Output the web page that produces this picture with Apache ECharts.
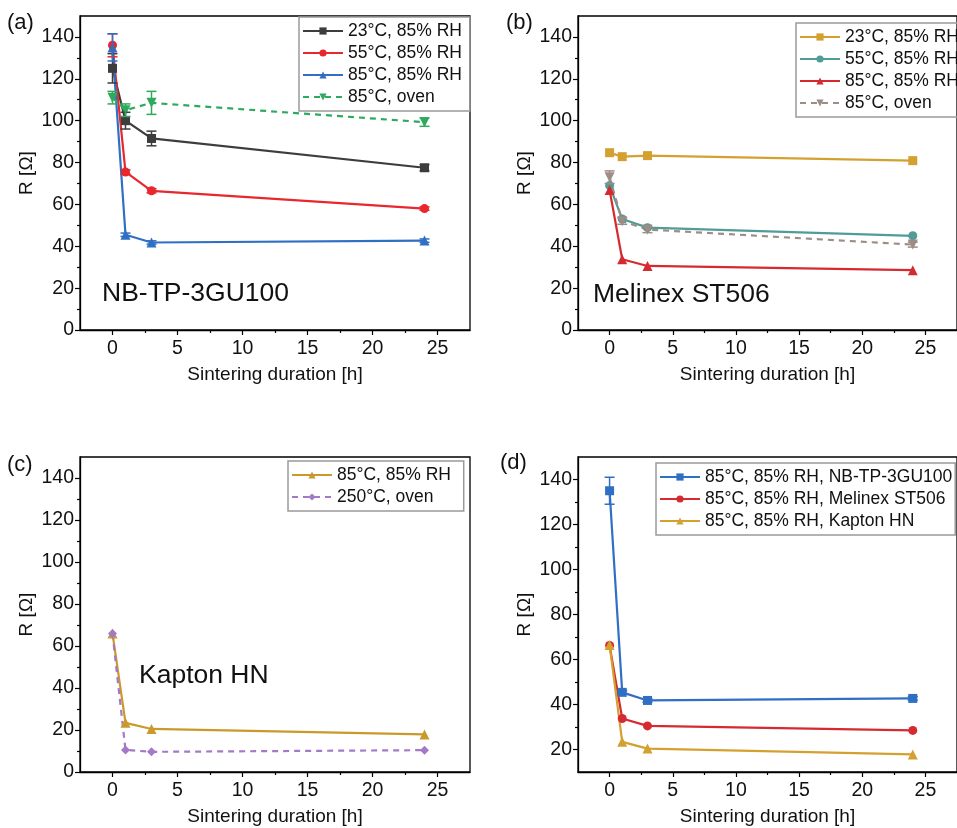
<!DOCTYPE html>
<html>
<head>
<meta charset="utf-8">
<script src="https://cdn.jsdelivr.net/npm/echarts@6/dist/echarts.min.js"></script>
<style>
  html, body { margin: 0; padding: 0; background: #fff; }
  #chart { width: 957px; height: 828px; }
</style>
</head>
<body>
<div id="chart"></div>
<script>
// sintering time points
const hours = [0, 1, 3, 24];

// (a) NB-TP-3GU100
const a23 = [125, 100, 91.5, 77.5];
const a23Err = [7, 4, 3.5, 1.5];
const a55 = [136, 75.5, 66.5, 58];
const a55Err = [5.5, 1, 1, 0.8];
const a85 = [135, 45.5, 41.8, 42.7];
const a85Err = [6.5, 0.8, 0.8, 0.8];
const aOven = [111, 105, 108.5, 99.3];
const aOvenErr = [3, 3, 5.5, 2];

// (b) Melinex ST506
const b23 = [84.7, 82.8, 83.3, 80.9];
const b55 = [69, 53, 48.9, 45];
const b85 = [66.9, 33.8, 30.6, 28.6];
const bOven = [73, 52, 48, 40.8];
const bOvenErr = [3, 1.5, 1.5, 1.2];

// (c) Kapton HN
const c85 = [66, 23.4, 20.5, 17.9];
const c250 = [66, 10.5, 9.6, 10.4];

// (d) 85°C, 85% RH comparison
const dNB = [135, 45.4, 41.8, 42.7];
const dNBErr = [6, 0.8, 0.8, 0.8];
const dMel = [66.2, 33.8, 30.5, 28.5];
const dKap = [66.5, 23.4, 20.4, 17.8];

const xMajor = [0, 5, 10, 15, 20, 25];
const xMinor = [2.5, 7.5, 12.5, 17.5, 22.5];
const yMajor = [0, 20, 40, 60, 80, 100, 120, 140];
const yMinor = [10, 30, 50, 70, 90, 110, 130];
const yMajorD = [20, 40, 60, 80, 100, 120, 140];
const yMinorD = [30, 50, 70, 90, 110, 130];

const FONT = '"Liberation Sans", Arial, sans-serif';

const grids = [
  { left: 80, top: 16, width: 390, height: 314 },
  { left: 578, top: 16, width: 390, height: 314 },
  { left: 80, top: 457, width: 390, height: 315 },
  { left: 578, top: 457, width: 390, height: 315 }
];

const xAxes = [];
const yAxes = [];
grids.forEach((g, i) => {
  const yMin = i === 3 ? 10 : 0;
  const yMaj = i === 3 ? yMajorD : yMajor;
  const yMin2 = i === 3 ? yMinorD : yMinor;
  xAxes.push({
    gridIndex: i, type: 'value', min: -2.5, max: 27.5, position: 'bottom',
    axisLine: { show: true, onZero: false, lineStyle: { color: '#000', width: 1.3 } },
    axisTick: { show: true, inside: false, length: 5, customValues: xMajor, lineStyle: { color: '#000', width: 1.2 } },
    axisLabel: { customValues: xMajor, fontSize: 19.5, color: '#111', margin: 9, fontFamily: FONT },
    splitLine: { show: false },
    name: 'Sintering duration [h]', nameLocation: 'middle', nameGap: 35,
    nameTextStyle: { fontSize: 19, color: '#111', fontFamily: FONT }
  });
  xAxes.push({
    gridIndex: i, type: 'value', min: -2.5, max: 27.5, position: 'bottom',
    axisLine: { show: false, onZero: false },
    axisTick: { show: true, inside: false, length: 3, customValues: xMinor, lineStyle: { color: '#000', width: 1.2 } },
    axisLabel: { show: false }, splitLine: { show: false }
  });
  yAxes.push({
    gridIndex: i, type: 'value', min: yMin, max: 150, position: 'left',
    axisLine: { show: true, onZero: false, lineStyle: { color: '#000', width: 1.3 } },
    axisTick: { show: true, inside: false, length: 5, customValues: yMaj, lineStyle: { color: '#000', width: 1.2 } },
    axisLabel: { customValues: yMaj, fontSize: 19.5, color: '#111', margin: 6, fontFamily: FONT },
    splitLine: { show: false },
    name: 'R [Ω]', nameLocation: 'middle', nameGap: 44, nameRotate: 90,
    nameTextStyle: { fontSize: 19, color: '#111', fontFamily: FONT }
  });
  yAxes.push({
    gridIndex: i, type: 'value', min: yMin, max: 150, position: 'left',
    axisLine: { show: false, onZero: false },
    axisTick: { show: true, inside: false, length: 3, customValues: yMin2, lineStyle: { color: '#000', width: 1.2 } },
    axisLabel: { show: false }, splitLine: { show: false }
  });
});

const pairs = (vals) => hours.map((h, k) => [h, vals[k]]);

function lineSeries(panel, name, vals, color, symbol, dashed) {
  return {
    type: 'line', name: name,
    xAxisIndex: panel * 2, yAxisIndex: panel * 2,
    data: pairs(vals),
    symbol: symbol, symbolSize: symbol === 'triangle' ? 10 : 9,
    symbolRotate: symbol === 'triangle' && dashed ? 180 : 0,
    lineStyle: { color: color, width: 2.2, type: dashed ? [6, 5] : 'solid' },
    itemStyle: { color: color },
    z: 3
  };
}

function errSeries(panel, vals, errs, color) {
  return {
    type: 'custom',
    xAxisIndex: panel * 2, yAxisIndex: panel * 2,
    data: hours.map((h, k) => [h, vals[k] - errs[k], vals[k] + errs[k]]),
    renderItem: function (params, api) {
      const top = api.coord([api.value(0), api.value(2)]);
      const bot = api.coord([api.value(0), api.value(1)]);
      const w = 5;
      const st = { stroke: color, lineWidth: 1.5 };
      return {
        type: 'group',
        children: [
          { type: 'line', shape: { x1: top[0], y1: top[1], x2: bot[0], y2: bot[1] }, style: st },
          { type: 'line', shape: { x1: top[0] - w, y1: top[1], x2: top[0] + w, y2: top[1] }, style: st },
          { type: 'line', shape: { x1: bot[0] - w, y1: bot[1], x2: bot[0] + w, y2: bot[1] }, style: st }
        ]
      };
    },
    z: 4
  };
}

const C = {
  gray: '#3d3d3d', red: '#e8282e', blue: '#2f6fc4', green: '#2eaa5e',
  gold: '#d4a030', teal: '#4f9c98', red2: '#d42a30', brown: '#9e8c86',
  goldC: '#c9992b', purple: '#a479c8'
};

const series = [
  lineSeries(0, '23°C, 85% RH ', a23, C.gray, 'rect', false),
  lineSeries(0, '55°C, 85% RH ', a55, C.red, 'circle', false),
  lineSeries(0, '85°C, 85% RH ', a85, C.blue, 'triangle', false),
  lineSeries(0, '85°C, oven ', aOven, C.green, 'triangle', true),
  errSeries(0, a23, a23Err, C.gray),
  errSeries(0, a55, a55Err, C.red),
  errSeries(0, a85, a85Err, C.blue),
  errSeries(0, aOven, aOvenErr, C.green),

  lineSeries(1, '23°C, 85% RH', b23, C.gold, 'rect', false),
  lineSeries(1, '55°C, 85% RH', b55, C.teal, 'circle', false),
  lineSeries(1, '85°C, 85% RH', b85, C.red2, 'triangle', false),
  lineSeries(1, '85°C, oven', bOven, C.brown, 'triangle', true),
  errSeries(1, bOven, bOvenErr, C.brown),

  lineSeries(2, '85°C, 85% RH  ', c85, C.goldC, 'triangle', false),
  lineSeries(2, '250°C, oven', c250, C.purple, 'diamond', true),

  lineSeries(3, '85°C, 85% RH, NB-TP-3GU100', dNB, C.blue, 'rect', false),
  lineSeries(3, '85°C, 85% RH, Melinex ST506', dMel, C.red2, 'circle', false),
  lineSeries(3, '85°C, 85% RH, Kapton HN', dKap, C.gold, 'triangle', false),
  errSeries(3, dNB, dNBErr, C.blue)
];

function legend(left, top, names) {
  return {
    left: left, top: top, orient: 'vertical',
    data: names,
    itemWidth: 40, itemHeight: 9, itemGap: 4,
    padding: [5, 3, 5, 3],
    borderColor: '#9a9a9a', borderWidth: 1.5,
    textStyle: { fontSize: 17.5, color: '#111', fontFamily: FONT },
    selectedMode: false
  };
}

const option = {
  animation: false,
  backgroundColor: '#fff',
  grid: grids.map(g => Object.assign({ show: true, borderColor: '#000', borderWidth: 1.3, backgroundColor: 'transparent' }, g)),
  xAxis: xAxes,
  yAxis: yAxes,
  legend: [
    legend(299, 17, ['23°C, 85% RH ', '55°C, 85% RH ', '85°C, 85% RH ', '85°C, oven ']),
    legend(796, 23, ['23°C, 85% RH', '55°C, 85% RH', '85°C, 85% RH', '85°C, oven']),
    legend(288, 461, ['85°C, 85% RH  ', '250°C, oven']),
    legend(656, 463, ['85°C, 85% RH, NB-TP-3GU100', '85°C, 85% RH, Melinex ST506', '85°C, 85% RH, Kapton HN'])
  ],
  graphic: [
    { type: 'text', left: 7, top: 12, style: { text: '(a)', fontSize: 22, fill: '#111', fontFamily: FONT } },
    { type: 'text', left: 506, top: 12, style: { text: '(b)', fontSize: 22, fill: '#111', fontFamily: FONT } },
    { type: 'text', left: 7, top: 454, style: { text: '(c)', fontSize: 22, fill: '#111', fontFamily: FONT } },
    { type: 'text', left: 500, top: 452, style: { text: '(d)', fontSize: 22, fill: '#111', fontFamily: FONT } },
    { type: 'text', left: 102, top: 280, style: { text: 'NB-TP-3GU100', fontSize: 26.5, fill: '#111', fontFamily: FONT } },
    { type: 'text', left: 593, top: 281, style: { text: 'Melinex ST506', fontSize: 26.5, fill: '#111', fontFamily: FONT } },
    { type: 'text', left: 139, top: 662, style: { text: 'Kapton HN', fontSize: 26.5, fill: '#111', fontFamily: FONT } }
  ],
  series: series
};

const chart = echarts.init(document.getElementById('chart'), null, { renderer: 'canvas' });
chart.setOption(option);
</script>
</body>
</html>
